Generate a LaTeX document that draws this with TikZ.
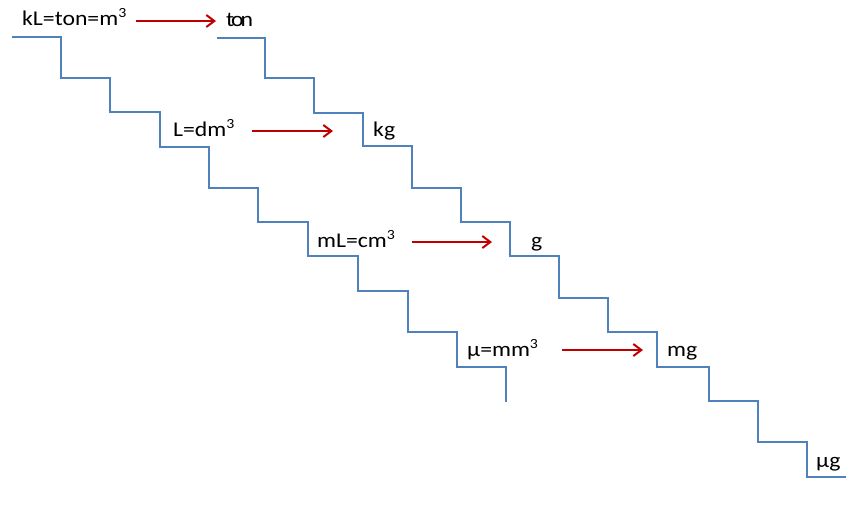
\documentclass[tikz,border=0pt]{standalone}
\usepackage{fontspec}
\setmainfont{Carlito}[FakeStretch=1.13]
\usetikzlibrary{arrows.meta}
\definecolor{stairblue}{HTML}{4F81BD}
\definecolor{arrowred}{HTML}{C00000}
% cubed exponent
\newcommand{\cubed}{\raisebox{0.38em}{\fontsize{14}{14}\selectfont 3}}
\begin{document}
\begin{tikzpicture}[x=1pt,y=-1pt,
  stair/.style={draw=stairblue,line width=2.4pt,line join=miter},
  unitlabel/.style={anchor=base west,inner sep=0pt,font=\fontsize{21}{25}\selectfont},
  convert/.style={draw=arrowred,line width=2pt,-{Straight Barb[length=8pt,width=12pt,line width=2pt]}}]
\useasboundingbox (0,0) rectangle (846,507);

% volume staircase
\draw[stair] (12,37) -| (61,78) -| (110,112) -| (160,147) -| (209,188)
  -| (258,222) -| (308,256) -| (358,291) -| (408,332) -| (457,367) -| (506,402);

% mass staircase
\draw[stair] (217,38) -| (265,78) -| (314,113) -| (363,146) -| (412,188)
  -| (461,222) -| (510,256) -| (559,298) -| (608,332) -| (657,367)
  -| (709,401) -| (758,442) -| (807,477) -- (846,477);

% volume units
\node[unitlabel] (kl) at (22,25) {kL=ton=m\cubed};
\node[unitlabel] (l)  at (173,136) {L=dm\cubed};
\node[unitlabel] (ml) at (317,247) {mL=cm\cubed};
\node[unitlabel] (mu) at (467,356) {µ=mm\cubed};

% mass units
\node[unitlabel] (ton) at (226,26) {t\kern-3pt o\kern-3pt n};
\node[unitlabel] (kg)  at (373,136) {kg};
\node[unitlabel] (g)   at (531,247) {g};
\node[unitlabel] (mg)  at (667,356) {mg};
\node[unitlabel] (ug)  at (816,467) {µg};

% conversion arrows
\coordinate (a1s) at (136,21);  \coordinate (a1e) at (216,21);
\coordinate (a2s) at (252,131); \coordinate (a2e) at (333,131);
\coordinate (a3s) at (412,242); \coordinate (a3e) at (492,242);
\coordinate (a4s) at (562,350); \coordinate (a4e) at (643,350);
\draw[convert] (a1s) -- (a1e);
\draw[convert] (a2s) -- (a2e);
\draw[convert] (a3s) -- (a3e);
\draw[convert] (a4s) -- (a4e);
\end{tikzpicture}
\end{document}
